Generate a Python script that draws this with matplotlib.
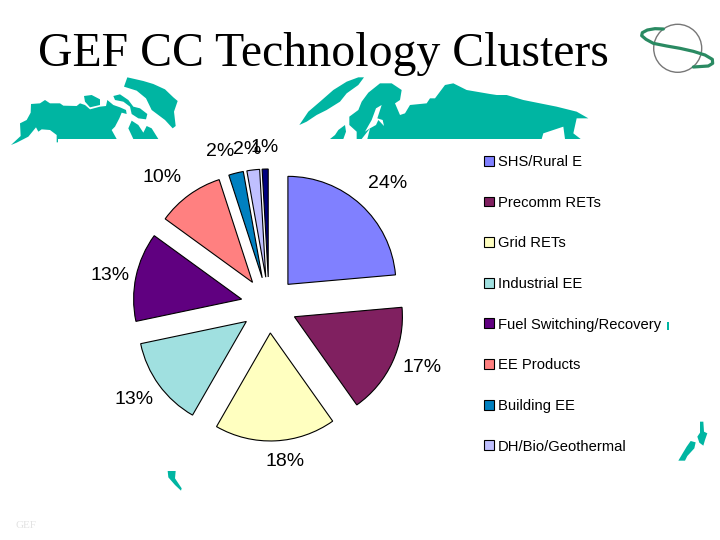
import matplotlib
matplotlib.use("Agg")
import matplotlib.pyplot as plt
from matplotlib.patches import Circle, Polygon

# pie data
categories = ["SHS/Rural E", "Precomm RETs", "Grid RETs", "Industrial EE",
              "Fuel Switching/Recovery", "EE Products", "Building EE",
              "DH/Bio/Geothermal", "Other"]
shares = [23.6, 16.6, 18.1, 13.4, 13.3, 10.0, 2.2, 1.9, 0.9]
colors = ["#8080FF", "#802060", "#FFFFC0", "#A0E0E0", "#600080",
          "#FF8080", "#0080C0", "#C0C0FF", "#000080"]

# label anchors, in picture pixels
label_pos = [(388, 184), (422, 368), (285, 461), (134, 399), (110, 275),
             (162, 177), (220, 152), (247, 150), (265, 148)]

TEAL = "#00B5A2"
H = 540


def flip(points, ox=0, oy=0, scale=3):
    # zoomed-crop coords -> figure coords
    return [(ox + x / scale, H - (oy + y / scale)) for x, y in points]


# background map
america = [(33, 165), (62, 138), (60, 100), (80, 90), (92, 68), (93, 42), (120, 40), (135, 30),
           (150, 40), (180, 40), (190, 47), (230, 48), (240, 40), (255, 45), (270, 58), (300, 50),
           (318, 48), (322, 30), (340, 45), (360, 52), (378, 60), (380, 72), (365, 68), (358, 85),
           (345, 110), (335, 120), (350, 147), (174, 147), (174, 157), (170, 157), (170, 135),
           (150, 120), (125, 118), (115, 125), (108, 112), (85, 140), (50, 158)]
isle_a = [(252, 18), (275, 15), (300, 28), (300, 45), (270, 52), (255, 35)]
isle_b = [(340, 18), (360, 13), (385, 30), (400, 50), (420, 55), (442, 72), (438, 88),
          (415, 85), (395, 72), (390, 50), (370, 35), (345, 30)]
isle_c = [(395, 92), (415, 105), (430, 128), (440, 108), (455, 115), (475, 147), (400, 147), (385, 115)]
greenland = [(52, 22), (100, 33), (130, 42), (165, 58), (190, 82), (203, 93), (192, 125), (197, 168),
             (188, 175), (165, 150), (125, 120), (108, 85), (80, 62), (42, 50)]
zemlya = [(222, 22), (205, 45), (170, 70), (150, 95), (110, 120), (80, 135), (50, 155), (28, 165),
          (55, 125), (90, 95), (130, 60), (170, 35), (205, 22)]
eurasia = [(235, 68), (270, 40), (305, 40), (335, 60), (330, 90), (315, 100), (330, 135), (345, 130),
           (360, 105), (410, 100), (420, 85), (435, 85), (465, 45), (490, 40), (530, 60), (600, 72),
           (620, 75), (650, 75), (700, 90), (800, 110), (860, 125), (895, 145), (860, 145), (850, 190),
           (872, 207), (825, 207), (820, 170), (790, 180), (760, 190), (755, 207), (232, 207),
           (240, 175), (215, 207), (200, 207), (200, 185), (178, 165), (178, 140), (205, 120), (215, 95)]
baltic = [(275, 105), (258, 115), (245, 150), (225, 185), (240, 175), (258, 165), (265, 150),
          (282, 168), (278, 150), (262, 145)]
iberia = [(120, 207), (135, 195), (145, 180), (165, 165), (168, 185), (160, 207)]
nz_north = [(150, 65), (160, 65), (162, 95), (172, 100), (165, 120), (160, 137), (148, 128),
            (142, 110), (150, 98)]
nz_south = [(122, 123), (137, 127), (133, 145), (112, 168), (105, 182), (85, 182), (98, 160), (110, 140)]
baja = [(503, 33), (527, 33), (525, 55), (545, 85), (543, 92), (525, 75), (505, 52)]
speck = [(590, 547), (597, 547), (597, 570), (590, 570)]

land = [(america, 0, 90), (isle_a, 0, 90), (isle_b, 0, 90), (isle_c, 0, 90), (greenland, 110, 70),
        (zemlya, 290, 70), (eurasia, 290, 70), (iberia, 290, 70), (nz_north, 650, 400),
        (nz_south, 650, 400), (baja, 0, 460), (speck, 470, 140)]

# logo ring
ring = [(100, 42), (75, 41), (52, 45), (37, 53), (35, 62), (48, 73), (70, 85), (110, 93), (150, 100),
        (190, 109), (225, 120), (247, 133), (248, 145), (235, 153), (190, 156)]

fig = plt.figure(figsize=(7.2, 5.4), dpi=100)
ax = fig.add_axes([0, 0, 1, 1])

for pts, ox, oy in land:
    ax.add_patch(Polygon(flip(pts, ox, oy), closed=True, fc=TEAL, ec="none", zorder=1))
ax.add_patch(Polygon(flip(baltic, 290, 70), closed=True, fc="white", ec="none", zorder=1.5))

# explode is in data units here, the axes are in pixels
wedges, _ = ax.pie(shares, colors=colors, startangle=90, counterclock=False,
                   explode=[28] * len(shares), center=(269, H - 305), radius=108,
                   wedgeprops={"edgecolor": "black", "linewidth": 0.8, "zorder": 2})

for share, (x, y) in zip(shares, label_pos):
    ax.text(x, H - y, f"{share:.0f}%", ha="center", va="center", fontsize=14,
            family="Liberation Sans", color="black", zorder=3)

leg = ax.legend(wedges[:8], categories[:8], loc="upper left", bbox_to_anchor=(484, H - 155),
                bbox_transform=ax.transData, frameon=False, borderpad=0, borderaxespad=0,
                handlelength=0.66, handleheight=0.66, handletextpad=0.3, labelspacing=1.81,
                prop={"family": "Liberation Sans", "size": 10.6})

ax.text(38, H - 66, "GEF CC Technology Clusters", fontsize=34.4, family="Liberation Serif",
        color="black", ha="left", va="baseline")
ax.text(15, H - 528, "GEF", fontsize=8, family="Liberation Serif", color="#E2E2E2")

ax.add_patch(Circle((677.7, H - 48.3), 24, fc="none", ec="#777777", lw=1, zorder=4))
rx, ry = zip(*flip(ring, 630, 15))
ax.plot(rx, ry, color="#2A8A62", lw=2.3, zorder=5, solid_capstyle="round", solid_joinstyle="round")

ax.set_xlim(0, 720)
ax.set_ylim(0, H)
ax.axis("off")

fig.savefig("out.png", dpi=100)
